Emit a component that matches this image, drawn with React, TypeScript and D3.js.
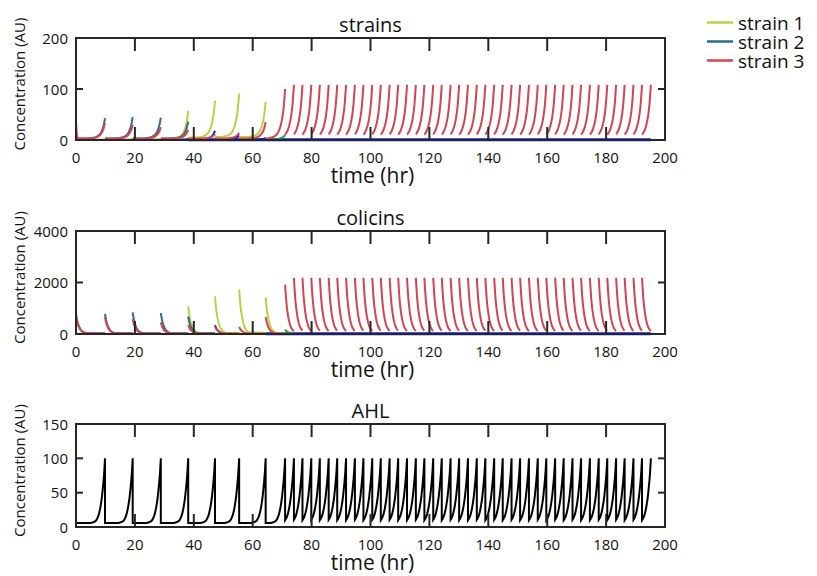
import * as d3 from 'd3'

// lysis / AHL peak times (hr)
const LYSIS = [
    9.85, 19.25, 28.8, 38.1, 47.2, 55.4, 64.4,
    71.0, 74.0, 76.9, 79.9, 82.8, 85.8, 88.7, 91.7, 94.7, 97.6, 100.6, 103.5, 106.5, 109.4,
    112.4, 115.4, 118.3, 121.3, 124.2, 127.2, 130.1, 133.1, 136.1, 139.0, 142.0, 144.9, 147.9,
    150.8, 153.8, 156.8, 159.7, 162.7, 165.6, 168.6, 171.5, 174.5, 177.5, 180.4, 183.4, 186.3,
    189.3, 192.2, 195.2
]

// strains: peak reached just before each lysis, per cycle (first cycle index in *_FROM)
const S1_FROM = 0
const S1_PEAK = [1.5, 1.5, 2, 57, 77, 91, 75]
const S1_START = [1, 1, 1, 2, 5, 6, 6]
const S2_FROM = 0
const S2_PEAK = [43, 45, 44, 36]
const S2_START = [3, 3, 3, 3]
const S3_FROM = 0
const S3_PEAK = [
    34, 30, 25, 20, 12, 14, 35, 100,
    108, 108, 108, 108, 108, 108, 108, 108, 108, 108, 108, 108, 108, 108,
    108, 108, 108, 108, 108, 108, 108, 108, 108, 108, 108, 108, 108, 108,
    108, 108, 108, 108, 108, 108, 108, 108, 108, 108, 108, 108, 108, 108
]
const S3_START = 3
const S4_FROM = 3
const S4_PEAK = [2, 18, 9, 4]
const S5_FROM = 7
const S5_PEAK = [10]
// red strain left over at t = 0
const S3_INIT = [[0, 37], [0.12, 24], [0.35, 8], [0.7, 3]]

// colicins: released at the start of each cycle, then decay
const C1_FROM = 4
const C1_PEAK = [1072, 1464, 1725, 1425]
const C2_FROM = 0
const C2_PEAK = [784, 784, 837, 813, 680]
const C3_FROM = 0
const C3_PEAK = [
    706, 654, 575, 445, 353, 288, 275, 654, 1920,
    2180, 2180, 2180, 2180, 2180, 2180, 2180, 2180, 2180, 2180, 2180, 2180, 2180, 2180, 2180,
    2180, 2180, 2180, 2180, 2180, 2180, 2180, 2180, 2180, 2180, 2180, 2180, 2180, 2180, 2180,
    2180, 2180, 2180, 2180, 2180, 2180, 2180, 2180, 2180, 2180, 2180
]
const C4_FROM = 5
const C4_PEAK = [340]
const C5_FROM = 8
const C5_PEAK = [170]

// blue population sitting on zero
const BLUE_STRAIN_SPAN = [38.1, 195.2]
const BLUE_COLICIN_SPAN = [64.4, 195.2]

// shapes read from single cycles: hours before lysis -> share of the rise
const GROWTH_HR = [-6, -5, -4, -3, -2.5, -2, -1.5, -1, -0.5, 0]
const GROWTH = [0, 0.012, 0.03, 0.07, 0.11, 0.17, 0.26, 0.4, 0.62, 1]
const DECAY_HR = [0, 0.25, 0.5, 0.75, 1, 1.5, 2, 2.5, 3, 4]
const DECAY = [1, 0.78, 0.6, 0.47, 0.37, 0.22, 0.13, 0.08, 0.05, 0.02]
const AHL_HR = [-5, -4, -3.5, -3, -2.5, -2, -1.5, -1, -0.75, -0.5, -0.25, 0]
const AHL_RISE = [0, 0.01, 0.02, 0.04, 0.08, 0.15, 0.26, 0.42, 0.53, 0.65, 0.8, 1]
const AHL_PEAK = 100
const AHL_FLOOR = 6
const COLICIN_FLOOR = 12

const X_TICKS = [0, 20, 40, 60, 80, 100, 120, 140, 160, 180, 200]
const LEGEND = ['strain 1', 'strain 2', 'strain 3']

const COL1 = '#bccf45'
const COL2 = '#2d6c8a'
const COL3 = '#d2444f'
const BLUE = '#0818f0'
const GREEN = '#1f9a43'
const AXIS = '#262626'
const FONT = '"Open Sans", "Noto Sans", sans-serif'

const X0 = 76
const X1 = 665
const PANELS = [
    { title: 'strains', top: 38, bottom: 140, max: 200, ticks: [0, 100, 200] },
    { title: 'colicins', top: 231, bottom: 334, max: 4000, ticks: [0, 2000, 4000] },
    { title: 'AHL', top: 424, bottom: 527, max: 150, ticks: [0, 50, 100, 150] },
]

const growthScale = d3.scaleLinear().domain(GROWTH_HR).range(GROWTH).clamp(true)
const decayScale = d3.scaleLinear().domain(DECAY_HR).range(DECAY).clamp(true)
const ahlScale = d3.scaleLinear().domain(AHL_HR).range(AHL_RISE).clamp(true)

function cycleStart(k){
    return k == 0 ? 0 : LYSIS[k-1]
}

function growthSeg(k, start, peak){
    const t0 = cycleStart(k)
    const t1 = LYSIS[k]
    let pts = [[t0, start + (peak - start) * growthScale(t0 - t1)]]
    GROWTH_HR.forEach((h, i) => {
        if(t1 + h > t0 + 0.05){
            pts.push([t1 + h, start + (peak - start) * GROWTH[i]])
        }
    })
    return pts
}

function decaySeg(k, peak, floor){
    const t0 = cycleStart(k)
    const t1 = LYSIS[k]
    let pts = []
    DECAY_HR.forEach((h, i) => {
        if(t0 + h < t1 - 0.05){
            pts.push([t0 + h, floor + (peak - floor) * DECAY[i]])
        }
    })
    pts.push([t1, floor + (peak - floor) * decayScale(t1 - t0)])
    return pts
}

function ahlSeg(k){
    const t0 = cycleStart(k)
    const t1 = LYSIS[k]
    let pts = [[t0, AHL_FLOOR + (AHL_PEAK - AHL_FLOOR) * ahlScale(t0 - t1)]]
    AHL_HR.forEach((h, i) => {
        if(t1 + h > t0 + 0.05){
            pts.push([t1 + h, AHL_FLOOR + (AHL_PEAK - AHL_FLOOR) * AHL_RISE[i]])
        }
    })
    return pts
}

function Panel({ p, children }){
    const x = d3.scaleLinear().domain([0, 200]).range([X0, X1])
    const y = d3.scaleLinear().domain([0, p.max]).range([p.bottom, p.top])
    const mid = (p.top + p.bottom) / 2
    return (
        <g>
            {children(x, y)}
            <rect x={X0} y={p.top} width={X1 - X0} height={p.bottom - p.top} fill="none" stroke={AXIS} strokeWidth={2} />
            {X_TICKS.slice(1, -1).map(t => (
                <g key={'xt' + t}>
                    <line x1={x(t)} x2={x(t)} y1={p.bottom} y2={p.bottom - 13} stroke={AXIS} strokeWidth={2} />
                    <line x1={x(t)} x2={x(t)} y1={p.top} y2={p.top + 13} stroke={AXIS} strokeWidth={2} />
                </g>
            ))}
            {p.ticks.slice(1, -1).map(t => (
                <g key={'yt' + t}>
                    <line x1={X0} x2={X0 + 7} y1={y(t)} y2={y(t)} stroke={AXIS} strokeWidth={2} />
                    <line x1={X1} x2={X1 - 7} y1={y(t)} y2={y(t)} stroke={AXIS} strokeWidth={2} />
                </g>
            ))}
            {X_TICKS.map(t => (
                <text key={'xl' + t} x={x(t)} y={p.bottom + 23} textAnchor="middle" fontSize={15} fill="#111">{t}</text>
            ))}
            {p.ticks.map(t => (
                <text key={'yl' + t} x={X0 - 8} y={y(t) + 5.5} textAnchor="end" fontSize={15} fill="#111">{t}</text>
            ))}
            <text x={(X0 + X1) / 2} y={p.top - 6} textAnchor="middle" fontSize={20} fill="#111">{p.title}</text>
            <text x={(X0 + X1) / 2 + 2} y={p.bottom + 43} textAnchor="middle" fontSize={21} fill="#111">time (hr)</text>
            <text transform={`translate(25,${mid - 5}) rotate(-90)`} textAnchor="middle" fontSize={15} fill="#111">Concentration (AU)</text>
        </g>
    )
}

export default function App(){
    const mkLine = (x, y) => d3.line().x(d => x(d[0])).y(d => y(d[1])).curve(d3.curveMonotoneX)

    const strains = (x, y) => {
        const line = mkLine(x, y)
        const seg = (pts, color, key, w = 2) => <path key={key} d={line(pts)} fill="none" stroke={color} strokeWidth={w} />
        return (
            <g>
                {seg([[BLUE_STRAIN_SPAN[0], 0.5], [BLUE_STRAIN_SPAN[1], 0.5]], BLUE, 'bf', 2.8)}
                {S4_PEAK.map((pk, i) => seg(growthSeg(S4_FROM + i, 0.5, pk), BLUE, 'b' + i))}
                {S5_PEAK.map((pk, i) => seg(growthSeg(S5_FROM + i, 1, pk), GREEN, 'g' + i))}
                {S1_PEAK.map((pk, i) => seg(growthSeg(S1_FROM + i, S1_START[i], pk), COL1, 's1' + i))}
                {S2_PEAK.map((pk, i) => seg(growthSeg(S2_FROM + i, S2_START[i], pk), COL2, 's2' + i))}
                {seg(S3_INIT, COL3, 'init')}
                {S3_PEAK.map((pk, i) => seg(growthSeg(S3_FROM + i, S3_START, pk), COL3, 's3' + i))}
            </g>
        )
    }

    const colicins = (x, y) => {
        const line = mkLine(x, y)
        const seg = (pts, color, key, w = 2) => <path key={key} d={line(pts)} fill="none" stroke={color} strokeWidth={w} />
        return (
            <g>
                {seg([[BLUE_COLICIN_SPAN[0], 10], [BLUE_COLICIN_SPAN[1], 10]], BLUE, 'bf', 2.8)}
                {C4_PEAK.map((pk, i) => seg(decaySeg(C4_FROM + i, pk, 10), BLUE, 'b' + i))}
                {C5_PEAK.map((pk, i) => seg(decaySeg(C5_FROM + i, pk, 10), GREEN, 'g' + i))}
                {C1_PEAK.map((pk, i) => seg(decaySeg(C1_FROM + i, pk, COLICIN_FLOOR), COL1, 'c1' + i))}
                {C2_PEAK.map((pk, i) => seg(decaySeg(C2_FROM + i, pk, COLICIN_FLOOR), COL2, 'c2' + i))}
                {C3_PEAK.map((pk, i) => seg(decaySeg(C3_FROM + i, pk, COLICIN_FLOOR), COL3, 'c3' + i))}
            </g>
        )
    }

    const ahl = (x, y) => {
        const line = mkLine(x, y)
        // one continuous trace: each cycle joined to the previous one (the drop at lysis)
        const d = LYSIS.map((t, k) => {
            const s = line(ahlSeg(k))
            return k == 0 ? s : 'L' + s.slice(1)
        }).join('')
        return <path d={d} fill="none" stroke="#000" strokeWidth={2} />
    }

    const drawers = [strains, colicins, ahl]
    const legendColors = [COL1, COL2, COL3]

    return (
        <svg width={817} height={576} style={{ position: 'absolute', left: 0, top: 0, background: '#fff' }} fontFamily={FONT}>
            <rect width={817} height={576} fill="#fff" />
            {PANELS.map((p, i) => (
                <Panel key={p.title} p={p}>{drawers[i]}</Panel>
            ))}
            {LEGEND.map((name, i) => (
                <g key={name}>
                    <line x1={707} x2={733} y1={22.5 + i * 19} y2={22.5 + i * 19} stroke={legendColors[i]} strokeWidth={2.5} />
                    <text x={738} y={29.5 + i * 19} fontSize={19} fill="#111">{name}</text>
                </g>
            ))}
        </svg>
    )
}
